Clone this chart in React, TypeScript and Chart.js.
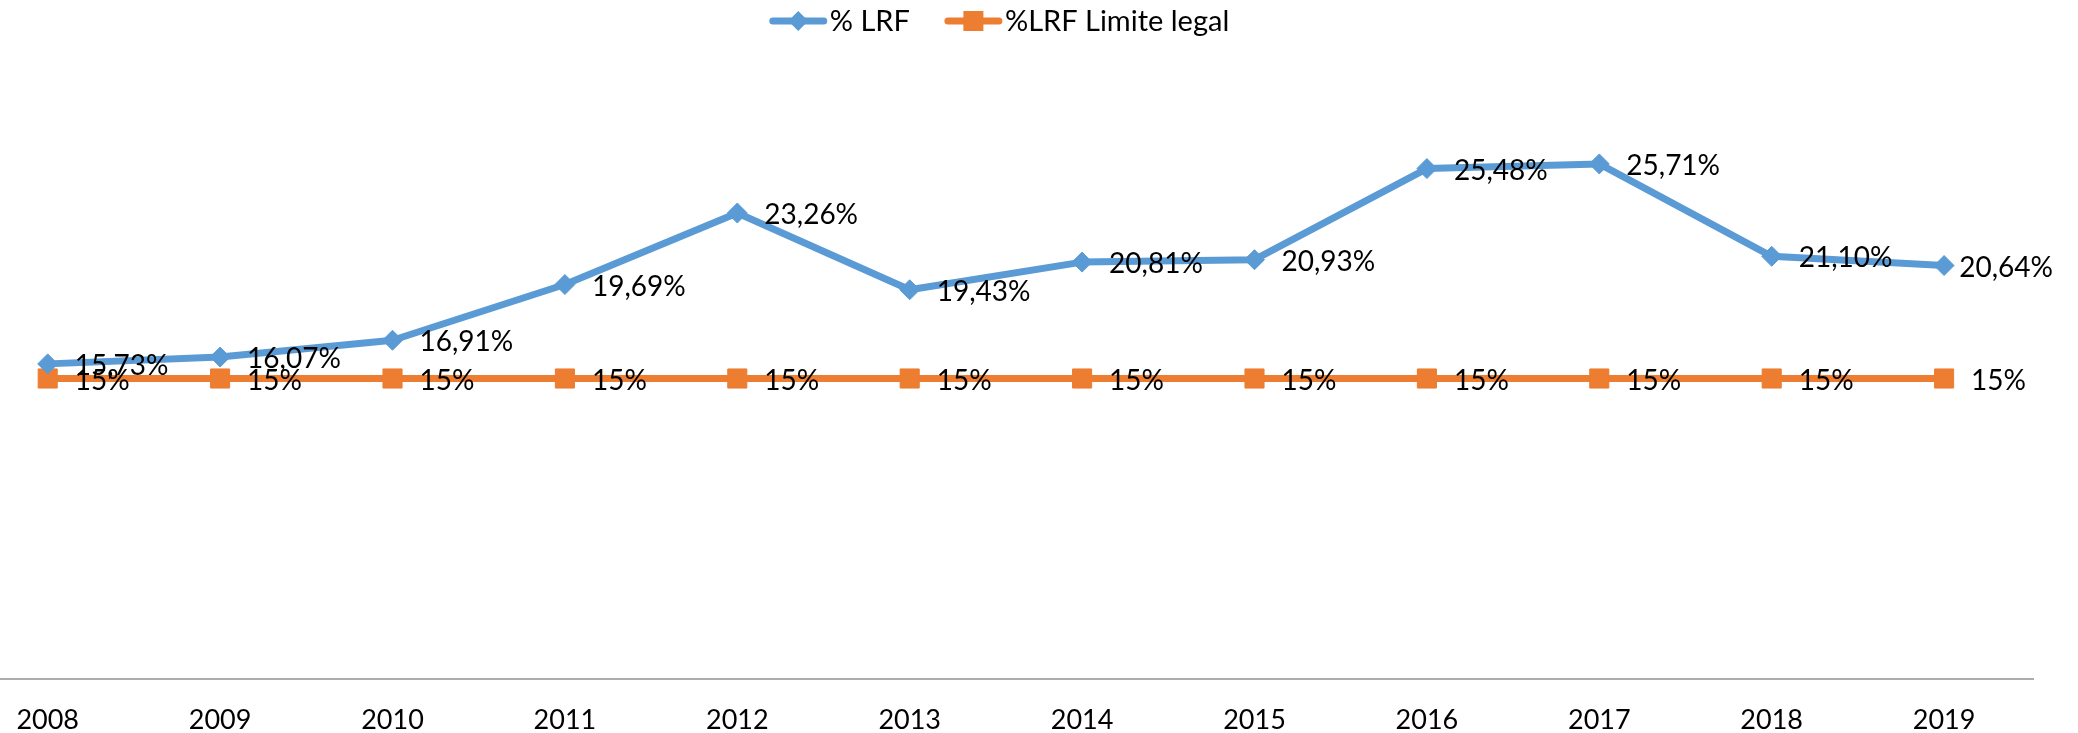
import React, { useEffect, useRef } from 'react';
import { Chart, registerables } from 'chart.js';

Chart.register(...registerables);

const years = [2008, 2009, 2010, 2011, 2012, 2013, 2014, 2015, 2016, 2017, 2018, 2019];
const lrfValues = [15.73, 16.07, 16.91, 19.69, 23.26, 19.43, 20.81, 20.93, 25.48, 25.71, 21.1, 20.64];
const limitValues = [15, 15, 15, 15, 15, 15, 15, 15, 15, 15, 15, 15];
const seriesNames = ['% LRF', '%LRF Limite legal'];
const yearTickLabels = ['2008', '2009', '2010', '2011', '2012', '2013', '2014', '2015', '2016', '2017', '2018', '2019'];

const BLUE = '#5B9BD5';
const ORANGE = '#ED7D31';
const FONT = 'Lato, "Liberation Sans", Arial, sans-serif';

const fmtLabel = (v: number, dsIndex: number) =>
  dsIndex === 0 ? v.toFixed(2).replace('.', ',') + '%' : `${v}%`;

const dataLabelPlugin = {
  id: 'excelDataLabels',
  afterDatasetsDraw(chart: any) {
    const ctx = chart.ctx as CanvasRenderingContext2D;
    ctx.save();
    ctx.font = `28px ${FONT}`;
    ctx.fillStyle = '#000';
    ctx.textBaseline = 'middle';
    ctx.textAlign = 'left';
    chart.data.datasets.forEach((ds: any, di: number) => {
      const meta = chart.getDatasetMeta(di);
      meta.data.forEach((pt: any, i: number) => {
        const v = ds.data[i].y;
        const txt = fmtLabel(v, di);
        const w = ctx.measureText(txt).width;
        const x = Math.min(pt.x + 27, 2053 - w);
        ctx.fillText(txt, x, pt.y + 2);
      });
    });
    ctx.restore();
  },
};

const legendPlugin = {
  id: 'excelLegend',
  afterDraw(chart: any) {
    const ctx = chart.ctx as CanvasRenderingContext2D;
    ctx.save();
    ctx.font = `29px ${FONT}`;
    const lineW = 59;
    const gapText = 2;
    const gapItem = 34;
    const items = chart.data.datasets.map((ds: any) => ({
      label: ds.label,
      color: ds.borderColor,
      style: ds.pointStyle,
      w: ctx.measureText(ds.label).width,
    }));
    const total =
      items.reduce((s: number, it: any) => s + lineW + gapText + it.w, 0) + gapItem * (items.length - 1);
    let x = 999 - total / 2;
    const y = 21;
    items.forEach((it: any) => {
      ctx.strokeStyle = it.color;
      ctx.fillStyle = it.color;
      ctx.lineWidth = 7;
      ctx.lineCap = 'round';
      ctx.beginPath();
      ctx.moveTo(x + 4, y);
      ctx.lineTo(x + lineW - 4, y);
      ctx.stroke();
      const cx = x + lineW / 2;
      if (it.style === 'rectRot') {
        ctx.beginPath();
        ctx.moveTo(cx, y - 10);
        ctx.lineTo(cx + 10, y);
        ctx.lineTo(cx, y + 10);
        ctx.lineTo(cx - 10, y);
        ctx.closePath();
        ctx.fill();
      } else {
        ctx.fillRect(cx - 10, y - 10, 20, 20);
      }
      ctx.fillStyle = '#000';
      ctx.textBaseline = 'middle';
      ctx.textAlign = 'left';
      ctx.fillText(it.label, x + lineW + gapText, y + 1);
      x += lineW + gapText + it.w + gapItem;
    });
    ctx.restore();
  },
};

export default function App() {
  const canvasRef = useRef<HTMLCanvasElement | null>(null);

  useEffect(() => {
    if (!canvasRef.current) return;
    const chart = new Chart(canvasRef.current, {
      type: 'line',
      data: {
        datasets: [
          {
            label: seriesNames[0],
            data: years.map((yr, i) => ({ x: yr, y: lrfValues[i] })),
            borderColor: BLUE,
            backgroundColor: BLUE,
            borderWidth: 7,
            borderCapStyle: 'round',
            borderJoinStyle: 'round',
            pointStyle: 'rectRot',
            pointRadius: 10,
            pointBackgroundColor: BLUE,
            pointBorderColor: BLUE,
            pointBorderWidth: 1,
            tension: 0,
          },
          {
            label: seriesNames[1],
            data: years.map((yr, i) => ({ x: yr, y: limitValues[i] })),
            borderColor: ORANGE,
            backgroundColor: ORANGE,
            borderWidth: 7,
            borderCapStyle: 'round',
            borderJoinStyle: 'round',
            pointStyle: 'rect',
            pointRadius: 13.5,
            pointBackgroundColor: ORANGE,
            pointBorderColor: ORANGE,
            pointBorderWidth: 1,
            tension: 0,
          },
        ],
      } as any,
      options: {
        animation: false,
        responsive: false,
        devicePixelRatio: 1,
        events: [],
        layout: { autoPadding: false, padding: { top: 78, right: 45, left: 0, bottom: 0 } },
        plugins: {
          legend: { display: false },
          tooltip: { enabled: false },
          title: { display: false },
        },
        scales: {
          x: {
            type: 'linear',
            min: 2007.7233,
            max: 2019.5157,
            afterBuildTicks: (scale: any) => {
              scale.ticks = years.map((v) => ({ value: v }));
            },
            afterFit: (scale: any) => {
              scale.paddingLeft = 0;
              scale.paddingRight = 0;
              scale.height = 54;
            },
            grid: { display: false, drawTicks: false },
            border: { display: true, color: '#ADADAD', width: 2 },
            ticks: {
              padding: 27,
              color: '#000',
              font: { family: FONT, size: 27, lineHeight: 1.037 },
              maxRotation: 0,
              autoSkip: false,
              callback: (value: any) => {
                const idx = years.indexOf(Number(value));
                return idx >= 0 ? yearTickLabels[idx] : '';
              },
            },
          },
          y: {
            display: false,
            min: 0,
            max: 30,
          },
        },
      } as any,
      plugins: [dataLabelPlugin, legendPlugin],
    });
    return () => chart.destroy();
  }, []);

  return (
    <div style={{ position: 'fixed', left: 0, top: 0, width: 2078, height: 733, background: '#fff' }}>
      <canvas ref={canvasRef} width={2078} height={733} style={{ display: 'block', width: 2078, height: 733 }} />
    </div>
  );
}
